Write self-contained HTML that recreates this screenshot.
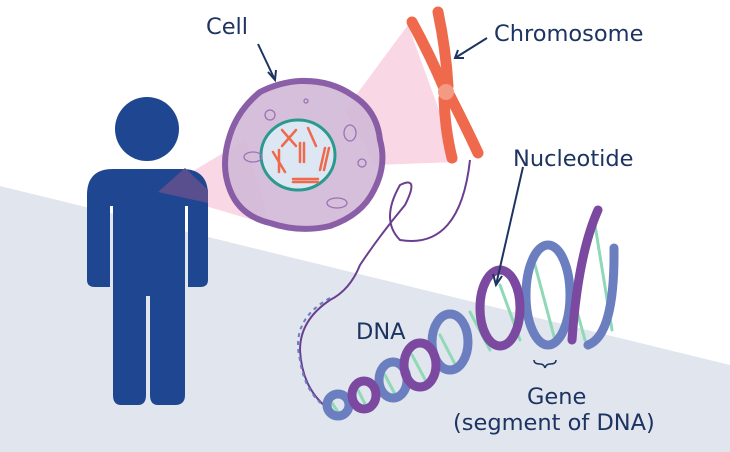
<!DOCTYPE html>
<html><head><meta charset="utf-8"><style>
html,body{margin:0;padding:0;background:#fff;width:730px;height:452px;overflow:hidden}
text{font-family:"DejaVu Sans","Liberation Sans",sans-serif;fill:#1d3461;font-size:22.5px}
</style></head><body>
<svg width="730" height="452" viewBox="0 0 730 452" xmlns="http://www.w3.org/2000/svg">
<polygon points="0,186 730,365 730,452 0,452" fill="#e1e5ee"/>
<!-- pink beams -->
<polygon points="158,192 245,140 270,225" fill="#f8d3e2" opacity="0.9"/>
<polygon points="345,110 408,25 458,162 375,165" fill="#f8d3e2" opacity="0.9"/>
<!-- person -->
<g fill="#1f4690">
<circle cx="147" cy="129" r="32"/>
<path d="M113,169 H182 Q208,169 208,195 V280 Q208,287 200,287 L188,287 V206 H185 V395 Q185,405 175,405 H158 Q150,405 150,395 V296 H146 V395 Q146,405 138,405 H121 Q113,405 113,395 V206 H110 V287 L95,287 Q87,287 87,280 V195 Q87,169 113,169Z"/>
</g>
<polygon points="158,192 185,168 208,190 208,203" fill="#5a4f8e"/>
<!-- cell -->
<path d="M300,81 Q330,80 352,95 Q377,110 380,140 Q387,165 374,190 Q362,215 330,226 Q300,233 270,223 Q240,216 230,190 Q220,165 230,135 Q238,110 260,92 Q280,82 300,81Z" fill="#d4bcd9" stroke="#8457a3" stroke-width="6" opacity="0.95"/>
<ellipse cx="298" cy="155" rx="37" ry="35" fill="#dde6f3" stroke="#2a9a8e" stroke-width="3"/>
<g stroke="#ef6a4d" stroke-width="2.5" stroke-linecap="round">
<path d="M282,130 L296,146 M296,130 L282,146"/><path d="M308,128 L316,146"/><path d="M300,143 L300,162 M304,143 L304,162"/>
<path d="M273,152 L285,172 M279,150 L279,172"/><path d="M325,148 L320,170 M329,148 L324,170"/><path d="M293,179 L318,179 M293,182 L318,182"/>
</g>
<g fill="none" stroke="#9c72b5" stroke-width="1.3">
<circle cx="270" cy="115" r="5"/><ellipse cx="253" cy="157" rx="9" ry="5"/><ellipse cx="337" cy="203" rx="10" ry="5"/>
<circle cx="362" cy="163" r="4"/><ellipse cx="350" cy="133" rx="6" ry="8"/><circle cx="306" cy="101" r="2"/>
</g>
<!-- chromosome -->
<g stroke="#ef6a4d" stroke-width="11" stroke-linecap="round" fill="none">
<path d="M412,22 Q430,55 444,88"/>
<path d="M438,12 Q446,50 448,86"/>
<path d="M444,98 Q445,130 452,158"/>
<path d="M450,96 Q465,125 478,153"/>
</g>
<circle cx="446" cy="92" r="8" fill="#f49a82"/>
<!-- thin DNA strand -->
<path d="M470,160 Q460,250 400,240 Q380,220 400,185 Q420,175 405,205 Q380,235 360,265 Q350,290 330,300 Q300,320 300,350 Q302,390 330,410" fill="none" stroke="#6a3f8f" stroke-width="2"/>
<path d="M330,298 Q290,320 300,360 Q305,395 330,410" fill="none" stroke="#6b7fc0" stroke-width="2" stroke-dasharray="4 4"/>
<!-- helix -->
<g fill="none" stroke-linecap="round">
<g stroke="#8fd9b6" stroke-width="3">
<path d="M330,400 L340,415 M358,390 L368,410 M385,375 L398,400 M412,355 L428,385 M440,335 L458,370 M470,312 L490,350 M500,285 L520,340 M535,265 L555,340 M560,250 L585,340 M595,225 L612,330"/>
</g>
<g stroke="#6b7fc0" stroke-width="9">
<ellipse cx="338" cy="405" rx="11" ry="11"/><ellipse cx="393" cy="380" rx="14" ry="18"/><ellipse cx="450" cy="342" rx="18" ry="28"/><ellipse cx="548" cy="295" rx="22" ry="50"/>
</g>
<g stroke="#7b4aa0" stroke-width="9">
<ellipse cx="364" cy="395" rx="12" ry="14"/><ellipse cx="420" cy="365" rx="16" ry="22"/><ellipse cx="500" cy="308" rx="20" ry="38"/>
<path d="M572,340 Q578,255 598,210"/>
</g>
<path d="M588,345 Q615,335 614,248" stroke="#6b7fc0" stroke-width="9"/>
</g>
<!-- arrows -->
<g stroke="#1d3461" stroke-width="2" fill="none">
<path d="M258,44 L275,80 M268,72 L275,80 L276,70"/>
<path d="M487,38 L455,58 M458,50 L455,58 L464,58"/>
<path d="M523,167 L496,285 M493,274 L496,285 L502,276"/>
<path d="M534,360 Q534,364 540,364 Q544,364 545,368 Q546,364 550,364 Q556,364 556,360" stroke-width="1.5"/>
</g>
<text x="206" y="34">Cell</text>
<text x="494" y="41">Chromosome</text>
<text x="513" y="166">Nucleotide</text>
<text x="356" y="339">DNA</text>
<text x="527" y="404">Gene</text>
<text x="453" y="430">(segment of DNA)</text>
</svg>
</body></html>
